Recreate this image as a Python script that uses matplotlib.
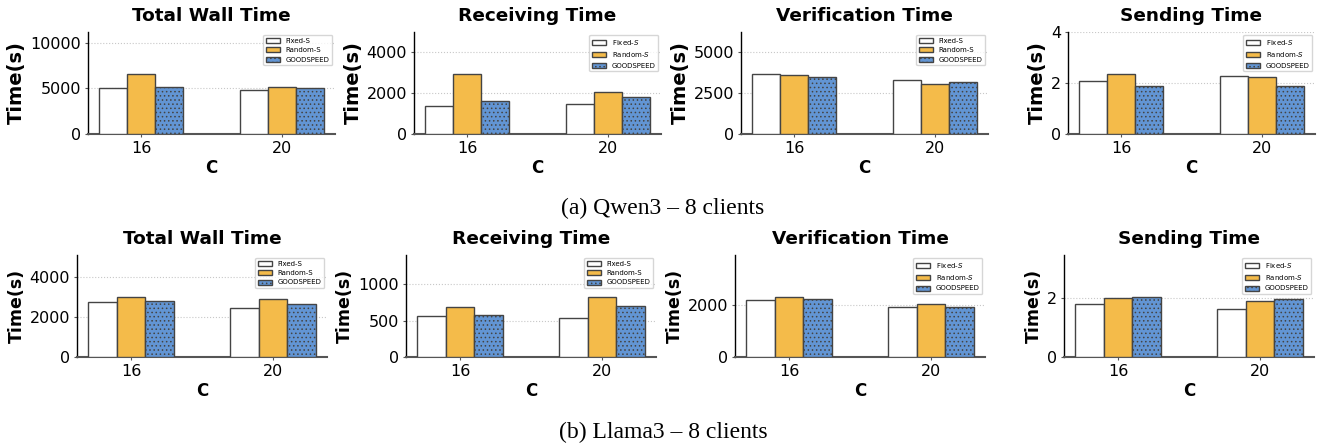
import numpy as np
import matplotlib
matplotlib.use('Agg')
import matplotlib.pyplot as plt
from matplotlib.ticker import MaxNLocator

C_VALUES = ['16', '20']
PANEL_TITLES = ['Total Wall Time', 'Receiving Time', 'Verification Time', 'Sending Time']
COLORS = ['white', '#F4BB4A', '#6295D4']
HATCHES = [None, None, '....']

# Qwen3 - 8 clients: one list per method, values for C=16 and C=20
qwen_fixed = [[5050, 4780], [1390, 1450], [3680, 3330], [2.09, 2.29]]
qwen_random = [[6560, 5110], [2940, 2075], [3635, 3045], [2.36, 2.26]]
qwen_goodspeed = [[5110, 5000], [1630, 1800], [3470, 3205], [1.88, 1.88]]

# Llama3 - 8 clients
llama_fixed = [[2730, 2460], [557, 534], [2165, 1900], [1.80, 1.63]]
llama_random = [[2990, 2880], [682, 822], [2290, 2025], [1.99, 1.88]]
llama_goodspeed = [[2790, 2640], [572, 703], [2195, 1910], [2.03, 1.95]]

# whether the legend shows S in italic, per panel
qwen_italic = [False, True, False, True]
llama_italic = [False, False, True, True]

plt.rcParams['hatch.linewidth'] = 0.6
plt.rcParams['hatch.color'] = '#333333'

W, H = 1326, 446
fig = plt.figure(figsize=(W / 100, H / 100), dpi=100)


def px_axes(left, right, top, bottom):
    return fig.add_axes([left / W, 1 - bottom / H, (right - left) / W, (bottom - top) / H])


def draw_panel(ax, title, fixed, random_, goodspeed, italic, ylab_size):
    x = np.arange(len(C_VALUES))
    width = 0.2
    names = ['Fixed-$S$', 'Random-$S$', 'GOODSPEED'] if italic else ['Fixed-S', 'Random-S', 'GOODSPEED']
    series = [fixed, random_, goodspeed]
    for i, vals in enumerate(series):
        ax.bar(x + (i - 1) * width, vals, width, color=COLORS[i], edgecolor='#444444',
               linewidth=1.0, hatch=HATCHES[i], label=names[i], zorder=3)
    top = max(max(s) for s in series) * 1.7
    ax.set_ylim(0, top)
    ax.yaxis.set_major_locator(MaxNLocator(nbins=3, steps=[1, 2, 2.5, 5, 10]))
    ax.set_xticks(x)
    ax.set_xticklabels(C_VALUES)
    ax.set_title(title, fontsize=13.3, fontweight='bold', pad=8)
    ax.set_xlabel('C', fontsize=12, fontweight='bold', labelpad=2)
    ax.set_ylabel('Time(s)', fontsize=ylab_size, fontweight='bold', labelpad=3)
    ax.tick_params(axis='both', labelsize=11.5, length=2, color='#555555', pad=3)
    ax.yaxis.grid(True, linestyle=':', color='#c8c8c8', linewidth=0.8, zorder=0)
    ax.set_axisbelow(True)
    ax.spines['top'].set_visible(False)
    ax.spines['right'].set_visible(False)
    ax.spines['left'].set_color('black')
    ax.spines['left'].set_linewidth(1.0)
    ax.spines['bottom'].set_color('#555555')
    ax.spines['bottom'].set_linewidth(1.5)
    ax.legend(loc='upper right', fontsize=5, borderaxespad=0.4, handlelength=2.0)


top_lefts = [88, 414, 741, 1068]
for k in range(4):
    ax = px_axes(top_lefts[k], top_lefts[k] + 247, 32, 134)
    draw_panel(ax, PANEL_TITLES[k], qwen_fixed[k], qwen_random[k], qwen_goodspeed[k],
               qwen_italic[k], 14)

bot_lefts = [77, 406, 735, 1064]
for k in range(4):
    ax = px_axes(bot_lefts[k], bot_lefts[k] + 250, 255, 357)
    draw_panel(ax, PANEL_TITLES[k], llama_fixed[k], llama_random[k], llama_goodspeed[k],
               llama_italic[k], 12.5)

fig.text(0.5, 1 - 208 / H, '(a) Qwen3 \u2013 8 clients', ha='center', va='center',
         fontsize=17, family='Liberation Serif')
fig.text(0.5, 1 - 432 / H, '(b) Llama3 \u2013 8 clients', ha='center', va='center',
         fontsize=17, family='Liberation Serif')

fig.savefig('out.png', dpi=100)
